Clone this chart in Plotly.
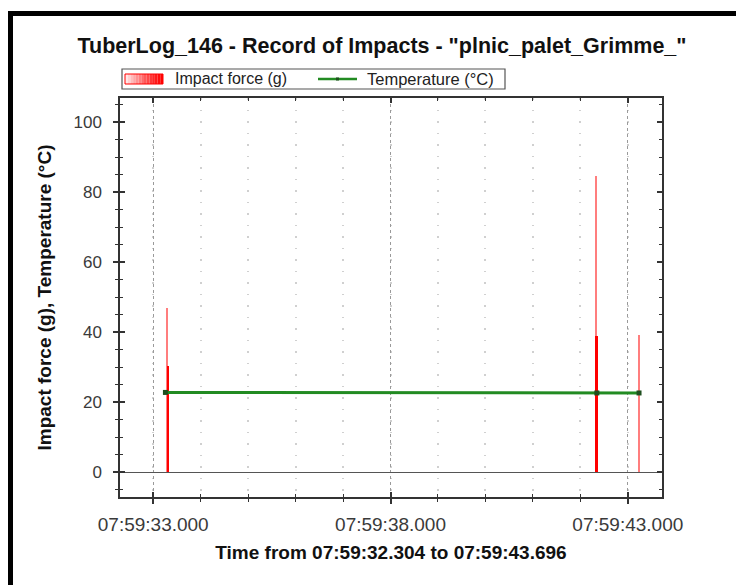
import plotly.graph_objects as go

# ---------------- data ----------------
impact_time_s = [33.290, 33.312, 42.324, 42.347, 43.236]   # seconds after 07:59:00
impact_force_g = [47.0, 30.5, 84.5, 39.0, 39.3]
impact_kind = ["thin", "thick", "thin", "thick", "thin"]

temp_time_s = [33.257, 42.347, 43.236]
temp_c = [22.85, 22.7, 22.7]

x_tick_vals = [33, 38, 43]
x_tick_text = ["07:59:33.000", "07:59:38.000", "07:59:43.000"]

series_names = ["Impact force (g)", "Temperature (°C)"]
title_text = 'TuberLog_146 - Record of Impacts - "plnic_palet_Grimme_"'
x_title = "Time from 07:59:32.304 to 07:59:43.696"
y_title = "Impact force (g), Temperature (°C)"

# ---------------- layout geometry ----------------
W, H = 736, 585
L, R, T, B = 120, 74, 98, 88
PW, PH = W - L - R, H - T - B


def px_x(px):
    return (px - L) / PW


def px_y(py):
    return (H - B - py) / PH


FONT = "Arial, Liberation Sans, sans-serif"
bar_width = {"thin": 0.034, "thick": 0.06}
bar_color = {"thin": "rgba(255,40,40,0.6)", "thick": "#ff0000"}
GREEN = "#228b22"

fig = go.Figure()

fig.add_trace(go.Bar(
    x=impact_time_s, y=impact_force_g,
    width=[bar_width[k] for k in impact_kind],
    marker=dict(color=[bar_color[k] for k in impact_kind], line=dict(width=0)),
    name=series_names[0], showlegend=False,
))

fig.add_trace(go.Scatter(
    x=temp_time_s, y=temp_c, mode="lines+markers",
    line=dict(color=GREEN, width=3),
    marker=dict(color="#1f4f1f", size=5, symbol="square"),
    name=series_names[1], showlegend=False,
))

# dummy trace for overlay axes (inside ticks)
fig.add_trace(go.Scatter(x=[], y=[], xaxis="x2", yaxis="y2", showlegend=False))

x_range = [32.30, 43.72]
y_range = [-7.0, 106.9]

axis_col = "#333333"
fig.update_layout(
    width=W, height=H,
    margin=dict(l=L, r=R, t=T, b=B),
    paper_bgcolor="white", plot_bgcolor="white",
    barmode="overlay", bargap=0,
    font=dict(family=FONT, color="#111"),
    showlegend=False,
    title=dict(text=title_text, x=382 / W, xref="container", xanchor="center",
               y=1 - 45 / H, yref="container", yanchor="middle",
               font=dict(size=21.5, family=FONT, color="#111", weight="bold")),
    xaxis=dict(
        range=x_range, tickmode="array", tickvals=x_tick_vals, ticktext=x_tick_text,
        showline=True, linecolor=axis_col, linewidth=1.5, mirror=True,
        ticks="outside", ticklen=5, tickwidth=1.5, tickcolor=axis_col,
        tickfont=dict(size=19, family=FONT, color="#3a3a3a"),
        ticklabelstandoff=4,
        showgrid=True, gridcolor="#9a9a9a", griddash="dot", gridwidth=1,
        minor=dict(dtick=1, tick0=33, ticks="outside", ticklen=3, tickcolor=axis_col,
                   tickwidth=1.2, showgrid=True, gridcolor="#d0d0d0",
                   griddash="1.5px 10px", gridwidth=1.5),
        zeroline=False,
        title=dict(text=x_title, standoff=12,
                   font=dict(size=19, family=FONT, color="#111", weight="bold")),
    ),
    yaxis=dict(
        range=y_range, tickmode="linear", tick0=0, dtick=20,
        showline=True, linecolor=axis_col, linewidth=1.5, mirror=True,
        ticks="outside", ticklen=5, tickwidth=1.5, tickcolor=axis_col,
        tickfont=dict(size=17, family=FONT, color="#3a3a3a"),
        ticklabelstandoff=8,
        showgrid=False,
        minor=dict(dtick=5, tick0=0, ticks="outside", ticklen=3, tickcolor=axis_col,
                   tickwidth=1.2, showgrid=False),
        zeroline=True, zerolinecolor="#555", zerolinewidth=1.3,
        title=dict(text=y_title, standoff=17,
                   font=dict(size=19, family=FONT, color="#111", weight="bold")),
    ),
    xaxis2=dict(
        overlaying="x", anchor="y2", side="bottom", range=x_range,
        tickmode="array", tickvals=x_tick_vals, showticklabels=False,
        ticks="inside", ticklen=5, tickwidth=1.5, tickcolor=axis_col,
        mirror="allticks", showline=False, showgrid=False, zeroline=False,
        minor=dict(dtick=1, tick0=33, ticks="inside", ticklen=3,
                   tickcolor=axis_col, tickwidth=1.2, showgrid=False),
    ),
    yaxis2=dict(
        overlaying="y", anchor="x2", side="left", range=y_range,
        tickmode="linear", tick0=0, dtick=20, showticklabels=False,
        ticks="inside", ticklen=5, tickwidth=1.5, tickcolor=axis_col,
        mirror="allticks", showline=False, showgrid=False, zeroline=False,
        minor=dict(dtick=5, tick0=0, ticks="inside", ticklen=3,
                   tickcolor=axis_col, tickwidth=1.2, showgrid=False),
    ),
)

shapes = []
# outer black frame (left and top edges)
shapes.append(dict(type="rect", xref="paper", yref="paper",
                   x0=px_x(8), x1=px_x(13), y0=px_y(600), y1=px_y(11),
                   fillcolor="black", line=dict(width=0), layer="above"))
shapes.append(dict(type="rect", xref="paper", yref="paper",
                   x0=px_x(8), x1=px_x(745), y0=px_y(16), y1=px_y(11),
                   fillcolor="black", line=dict(width=0), layer="above"))

# legend box
LG_L, LG_R, LG_T, LG_B = 122, 505, 69, 89
LG_C = (LG_T + LG_B) / 2
shapes.append(dict(type="rect", xref="paper", yref="paper",
                   x0=px_x(LG_L), x1=px_x(LG_R), y0=px_y(LG_B), y1=px_y(LG_T),
                   fillcolor="white", line=dict(color="#555", width=1.2), layer="above"))
# gradient red swatch for the impact series
sw_l, sw_r, n_strips = 125, 163, 14
for i in range(n_strips):
    f = (i + 0.5) / n_strips
    g = int(round(255 * (1 - f) ** 1.3 * 0.95))
    shapes.append(dict(type="rect", xref="paper", yref="paper",
                       x0=px_x(sw_l + (sw_r - sw_l) * i / n_strips),
                       x1=px_x(sw_l + (sw_r - sw_l) * (i + 1) / n_strips),
                       y0=px_y(LG_C + 5), y1=px_y(LG_C - 5),
                       fillcolor=f"rgb(255,{g},{g})", line=dict(width=0), layer="above"))
shapes.append(dict(type="rect", xref="paper", yref="paper",
                   x0=px_x(sw_l), x1=px_x(sw_r), y0=px_y(LG_C + 5), y1=px_y(LG_C - 5),
                   fillcolor="rgba(0,0,0,0)", line=dict(color="#ff0000", width=1), layer="above"))
# green line swatch
shapes.append(dict(type="line", xref="paper", yref="paper",
                   x0=px_x(318), x1=px_x(357), y0=px_y(LG_C), y1=px_y(LG_C),
                   line=dict(color=GREEN, width=2.5), layer="above"))
shapes.append(dict(type="rect", xref="paper", yref="paper",
                   x0=px_x(336), x1=px_x(339), y0=px_y(LG_C + 1.5), y1=px_y(LG_C - 1.5),
                   fillcolor="#1f4f1f", line=dict(width=0), layer="above"))
fig.update_layout(shapes=shapes)

fig.add_annotation(text=series_names[0], xref="paper", yref="paper",
                   x=px_x(173), y=px_y(LG_C), xanchor="left", yanchor="middle",
                   showarrow=False, font=dict(size=16, family=FONT, color="#222"))
fig.add_annotation(text=series_names[1], xref="paper", yref="paper",
                   x=px_x(365), y=px_y(LG_C), xanchor="left", yanchor="middle",
                   showarrow=False, font=dict(size=16.5, family=FONT, color="#222"))

fig.write_html("out.html")
